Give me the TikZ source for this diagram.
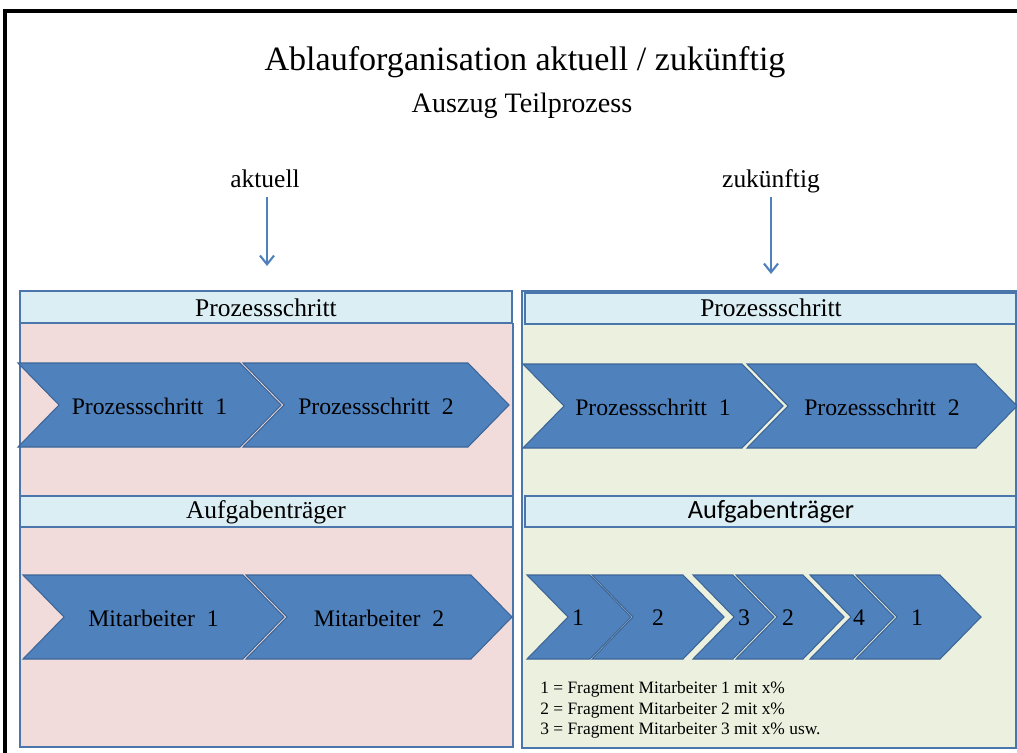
\documentclass[tikz,border=0pt]{standalone}
\usepackage{fontspec}
\setmainfont{Liberation Serif}
\newfontfamily\calibri{Carlito}
\usetikzlibrary{arrows.meta}
\definecolor{chevblue}{HTML}{4F81BD}
\definecolor{chevedge}{HTML}{3D6596}
\definecolor{hdrfill}{HTML}{DBEEF4}
\definecolor{pinkbg}{HTML}{F2DCDB}
\definecolor{greenbg}{HTML}{EBF1DE}
\definecolor{paneledge}{HTML}{4A76AC}
\tikzset{
  chevshape/.style={fill=chevblue, draw=chevedge, line width=0.6pt, line join=miter},
  chevtext/.style={inner sep=0pt, font=\fontsize{13.5pt}{15pt}\selectfont},
  hdrbox/.style={fill=hdrfill, draw=paneledge, line width=1.1pt},
  hdrtext/.style={inner sep=0pt, font=\fontsize{14.5pt}{16pt}\selectfont},
  panel/.style={draw=paneledge, line width=1.1pt},
  label/.style={inner sep=0pt, anchor=base, font=\fontsize{14.5pt}{16pt}\selectfont},
  downarrow/.style={draw=chevblue, line width=1.2pt, -{Straight Barb[length=5pt,width=8pt]}},
  legend/.style={anchor=west, inner sep=0pt, font=\fontsize{9.9pt}{11pt}\selectfont}
}
% name, left x, top-right x, centre y, text x, text
\newcommand{\chevx}[6]{%
  \path[chevshape] ({#2},{#4-42}) -- ({#3},{#4-42}) -- ({#3+41},{#4}) -- ({#3},{#4+42})
     -- ({#2},{#4+42}) -- ({#2+41},{#4}) -- cycle;
  \node[chevtext] (#1) at ({#5},{#4+1}) {#6};
}
% name, left x, top-right x, centre y, text (centred)
\newcommand{\chev}[5]{\chevx{#1}{#2}{#3}{#4}{(#2+#3+41)/2}{#5}}
\begin{document}
\begin{tikzpicture}[x=0.02cm,y=-0.02cm]
\useasboundingbox (0,0) rectangle (1017,753);
\fill[white] (0,0) rectangle (1017,753);
% outer frame
\draw[line width=1.8pt, black] (5,753) -- (5,11) -- (1017,11);

% titles
\node[inner sep=0pt, anchor=base, font=\fontsize{19.4pt}{22pt}\selectfont] (title) at (525,71) {Ablauforganisation aktuell / zukünftig};
\node[inner sep=0pt, anchor=base, font=\fontsize{16pt}{18pt}\selectfont] (subtitle) at (522,113) {Auszug Teilprozess};

\node[label] (akt) at (265,188) {aktuell};
\node[label] (zuk) at (771,188) {zukünftig};
\coordinate (aktstart) at (267,197);
\coordinate (aktend) at (267,266);
\coordinate (zukstart) at (771,197);
\coordinate (zukend) at (771,274);
\draw[downarrow] (aktstart) -- (aktend);
\draw[downarrow] (zukstart) -- (zukend);

% left panel
\path[fill=pinkbg] (20,291) rectangle (513,747);
\path[hdrbox] (20,291) rectangle (512,323);
\node[hdrtext] (lhead1) at (266,308) {Prozessschritt};
\path[hdrbox] (20,496) rectangle (513,527);
\node[hdrtext] (lhead2) at (266,512) {Aufgabenträger};
\draw[panel] (20,323) -- (20,747) -- (513,747) -- (513,323);

\chev{lp1}{18}{240}{405}{Prozessschritt\ \ 1}
\chev{lp2}{243}{468}{405}{Prozessschritt\ \ 2}
\chev{lm1}{23}{243}{617}{Mitarbeiter\ \ 1}
\chev{lm2}{246}{471}{617}{Mitarbeiter\ \ 2}

% right panel
\path[fill=greenbg] (522,291) rectangle (1016,747);
\path[hdrbox] (525,293) rectangle (1017,324);
\node[hdrtext] (rhead1) at (771,308) {Prozessschritt};
\path[hdrbox] (525,496) rectangle (1017,527);
\node[hdrtext, font=\calibri\fontsize{15pt}{17pt}\selectfont] (rhead2) at (771,512) {Aufgabenträger};
\draw[panel] (522,291) -- (522,748) -- (1016,748) -- (1016,291) -- cycle;

\chev{rp1}{523}{742}{406}{Prozessschritt\ \ 1}
\chev{rp2}{747}{976}{406}{Prozessschritt\ \ 2}

\chevx{f1}{527}{590}{617}{578}{1}
\chevx{f2}{592}{683}{617}{658}{2}
\chevx{f3}{693}{733}{617}{744}{3}
\chevx{f4}{736}{803}{617}{788}{2}
\chevx{f5}{810}{853}{617}{859}{4}
\chevx{f6}{856}{940}{617}{917}{1}

\node[legend] (leg1) at (540,689) {1 = Fragment Mitarbeiter 1 mit x\%};
\node[legend] (leg2) at (540,710) {2 = Fragment Mitarbeiter 2 mit x\%};
\node[legend] (leg3) at (540,730) {3 = Fragment Mitarbeiter 3 mit x\% usw.};
\end{tikzpicture}
\end{document}
